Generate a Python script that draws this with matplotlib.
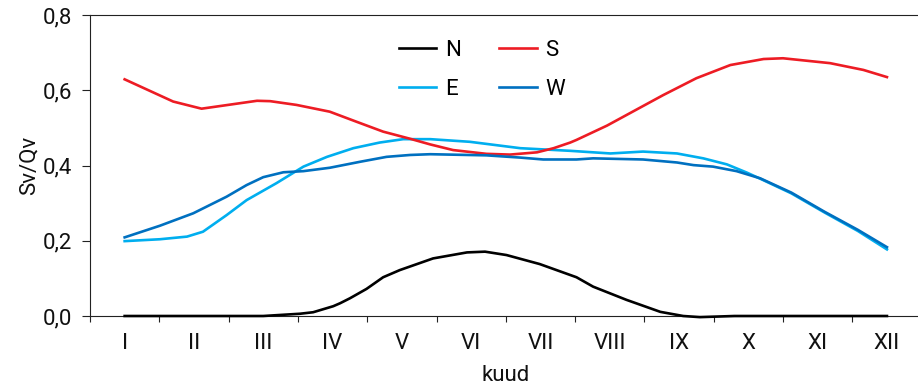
import matplotlib
matplotlib.use("Agg")
import matplotlib.pyplot as plt
from matplotlib.ticker import FixedLocator, FuncFormatter

# Month labels (Roman numerals) placed at month centres 1..12
months = ["I", "II", "III", "IV", "V", "VI", "VII", "VIII", "IX", "X", "XI", "XII"]

# Sv/Qv ratio by orientation; x in fractional months
n_month = [1.00, 3.00, 3.53, 3.72, 4.01, 4.11, 4.25, 4.49, 4.73, 4.97, 5.45, 5.94,
           6.20, 6.51, 6.99, 7.52, 7.76, 8.24, 8.73, 9.06, 9.30, 9.80, 12.00]
n_vals = [0.000, 0.000, 0.006, 0.010, 0.026, 0.034, 0.047, 0.072, 0.103, 0.122, 0.153, 0.169,
          0.171, 0.162, 0.138, 0.103, 0.078, 0.043, 0.011, 0.000, -0.003, 0.000, 0.000]

s_month = [1.00, 1.70, 2.11, 2.91, 3.10, 3.48, 3.96, 4.35, 4.73, 5.12, 5.41, 5.74, 6.22,
           6.56, 6.95, 7.19, 7.43, 7.52, 7.96, 8.39, 8.77, 9.25, 9.74, 10.22, 10.50,
           11.18, 11.66, 12.00]
s_vals = [0.629, 0.570, 0.551, 0.572, 0.571, 0.561, 0.543, 0.516, 0.490, 0.471, 0.456, 0.441,
          0.431, 0.429, 0.435, 0.446, 0.461, 0.468, 0.506, 0.549, 0.587, 0.632, 0.667, 0.683,
          0.685, 0.672, 0.654, 0.635]

e_month = [1.00, 1.51, 1.90, 2.13, 2.47, 2.76, 3.19, 3.58, 3.92, 4.30, 4.68, 5.02, 5.41,
           5.98, 6.71, 7.43, 8.01, 8.48, 8.97, 9.35, 9.69, 9.98, 10.17, 10.62, 11.10,
           11.58, 12.00]
e_vals = [0.199, 0.204, 0.211, 0.224, 0.268, 0.308, 0.353, 0.397, 0.423, 0.446, 0.461, 0.470,
          0.470, 0.463, 0.446, 0.439, 0.432, 0.437, 0.432, 0.419, 0.403, 0.381, 0.365, 0.326,
          0.275, 0.226, 0.177]

w_month = [1.00, 1.51, 1.99, 2.47, 2.76, 3.00, 3.29, 3.58, 3.96, 4.40, 4.78, 5.12, 5.41,
           6.22, 6.71, 7.04, 7.52, 7.76, 8.48, 8.97, 9.21, 9.49, 9.83, 10.17, 10.62,
           11.10, 11.58, 12.00]
w_vals = [0.209, 0.240, 0.273, 0.317, 0.348, 0.369, 0.382, 0.385, 0.394, 0.410, 0.423, 0.428,
          0.430, 0.427, 0.421, 0.416, 0.416, 0.419, 0.416, 0.408, 0.401, 0.397, 0.385, 0.366,
          0.328, 0.277, 0.229, 0.183]

y_ticks = [0.0, 0.2, 0.4, 0.6, 0.8]

plt.rcParams["font.family"] = ["Roboto", "DejaVu Sans"]
FS = 16
AX_COLOR = "#222222"

fig = plt.figure(figsize=(9.18, 3.84), dpi=100)
W, H = 918, 384
ax = fig.add_axes([90 / W, (H - 316) / H, (921.6 - 90) / W, (316 - 15) / H])

lw = 1.9
ax.plot(n_month, n_vals, color="#000000", lw=lw, label="N", clip_on=False, zorder=5)
ax.plot(e_month, e_vals, color="#00AEEF", lw=lw, label="E", zorder=3)
ax.plot(s_month, s_vals, color="#ED1C24", lw=lw, label="S", zorder=4)
ax.plot(w_month, w_vals, color="#0070C0", lw=lw, label="W", zorder=4)

ax.set_xlim(0.5, 12.5)
ax.set_ylim(0.0, 0.8)

# month boundaries carry tick marks, month centres carry the labels
ax.xaxis.set_major_locator(FixedLocator([i + 0.5 for i in range(0, 13)]))
ax.xaxis.set_major_formatter(FuncFormatter(lambda v, p: ""))
ax.xaxis.set_minor_locator(FixedLocator(list(range(1, 13))))
ax.xaxis.set_minor_formatter(FuncFormatter(lambda v, p: months[int(round(v)) - 1]))
ax.tick_params(axis="x", which="major", direction="out", length=4.5, width=0.8, color=AX_COLOR)
ax.tick_params(axis="x", which="minor", length=0, pad=12, labelsize=FS, labelcolor="#111111")

ax.set_yticks(y_ticks)
ax.yaxis.set_major_formatter(FuncFormatter(lambda v, p: f"{v:.1f}".replace(".", ",")))
ax.tick_params(axis="y", direction="out", length=6, width=0.8, color=AX_COLOR, pad=7,
               labelsize=FS, labelcolor="#111111")

for side in ("left", "bottom", "top"):
    ax.spines[side].set_color(AX_COLOR)
    ax.spines[side].set_linewidth(0.8)
ax.spines["right"].set_visible(False)

ax.set_xlabel("kuud", fontsize=FS, color="#111111", labelpad=8)
ax.set_ylabel("Sv/Qv", fontsize=FS, color="#111111", labelpad=2)

handles, labels = ax.get_legend_handles_labels()
leg = fig.legend(handles, labels, ncol=2, loc="center", frameon=False, fontsize=FS,
                 bbox_to_anchor=(482 / W, 1 - 70 / H), bbox_transform=fig.transFigure,
                 handlelength=1.7, handletextpad=0.4, columnspacing=1.7, labelspacing=0.8,
                 borderpad=0)

fig.savefig("out.png", dpi=100)
